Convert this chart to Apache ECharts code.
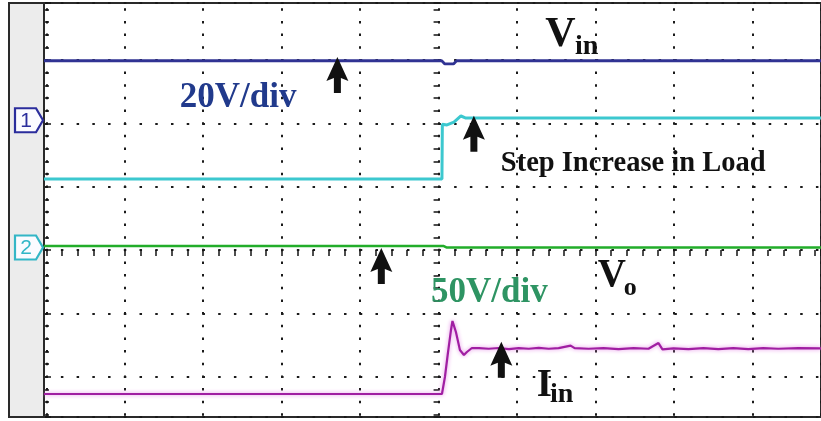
<!DOCTYPE html>
<html>
<head>
<meta charset="utf-8">
<style>
  html, body { margin: 0; padding: 0; background: #fff; }
  #scope { width: 821px; height: 421px; }
</style>
<script src="https://cdn.jsdelivr.net/npm/echarts@6/dist/echarts.min.js"></script>
</head>
<body>
<div id="scope"></div>
<script>
// everything is in screen divisions, (0, 0) is the centre of the scope screen
const screenT = [-5.03, 4.875];
const screenV = [-2.638, 3.902];

// channel 1 / input voltage (navy)
const vinT = [-5.03, 0.04, 0.08, 0.19, 0.23, 4.875];
const vinV = [2.99, 2.99, 2.94, 2.94, 2.99, 2.99];

// load step trace (cyan)
const stepT = [-5.03, 0.043, 0.048, 0.107, 0.196, 0.285, 0.348, 4.875];
const stepV = [1.12, 1.12, 1.985, 1.975, 2.02, 2.117, 2.085, 2.085];

// output voltage (green)
const voT = [-5.03, 0.06, 0.1, 4.875];
const voV = [0.065, 0.065, 0.04, 0.04];

// input current (magenta)
const iinT = [-5.03, 0.043, 0.081, 0.119, 0.158, 0.177, 0.221, 0.272, 0.323, 0.361, 0.425,
  0.515, 0.64, 0.768, 0.895, 1.022, 1.15, 1.277, 1.404, 1.53, 1.683, 1.734, 1.912, 2.103,
  2.294, 2.485, 2.676, 2.803, 2.854, 2.994, 3.185, 3.376, 3.566, 3.757, 3.948, 4.139, 4.33,
  4.585, 4.875];
const iinV = [-2.275, -2.275, -2.006, -1.627, -1.264, -1.122, -1.295, -1.58, -1.659, -1.611, -1.548,
  -1.55, -1.56, -1.548, -1.565, -1.55, -1.56, -1.545, -1.56, -1.55, -1.51, -1.55, -1.56, -1.55,
  -1.565, -1.55, -1.56, -1.47, -1.57, -1.555, -1.565, -1.55, -1.565, -1.55, -1.565, -1.55, -1.56,
  -1.55, -1.555];

// arrow tips
const arrowT = [-1.29, 0.45, -0.73, 0.8];
const arrowV = [3.05, 2.12, 0.03, -1.45];

// channel markers on the left panel
const markerText = ['1', '2'];
const markerLevel = [2.05, 0.04];

// annotation text, anchored at the left end of the baseline
const labelText = ['V', 'in', '20V/div', 'Step Increase in Load', '50V/div', 'V', 'o', 'I', 'in'];
const labelT = [1.36, 1.74, -3.3, 0.793, -0.097, 2.03, 2.36, 1.25, 1.42];
const labelV = [3.2, 3.075, 2.243, 1.232, -0.837, -0.6, -0.73, -2.338, -2.42];

const zip = (t, v) => t.map((x, i) => [x, v[i]]);

const chart = echarts.init(document.getElementById('scope'));

const tickStyle = { color: '#151515', width: 1.5 };

function trace(name, data, color, width, extra) {
  return Object.assign({
    name,
    type: 'line',
    data,
    showSymbol: false,
    symbol: 'none',
    lineStyle: { color, width },
    z: 3
  }, extra || {});
}

chart.setOption({
  animation: false,
  backgroundColor: '#fff',
  grid: {
    left: 44, right: -2, top: 3, bottom: 4,
    show: true,
    borderColor: '#2a2a2a',
    borderWidth: 2
  },
  xAxis: [{
    type: 'value',
    min: screenT[0],
    max: screenT[1],
    splitNumber: 10,
    minInterval: 1,
    maxInterval: 1,
    axisLine: { show: false, onZero: true },
    axisLabel: { show: false },
    axisTick: { show: true, length: 6, lineStyle: tickStyle },
    minorTick: { show: true, splitNumber: 5, length: 6, lineStyle: tickStyle },
    splitLine: {
      show: true,
      lineStyle: { color: '#1a1a1a', width: 2, type: [2.5, 10.16], dashOffset: 7.41 }
    }
  }],
  yAxis: [
    {
      type: 'value',
      position: 'left',
      min: screenV[0],
      max: screenV[1],
      splitNumber: 6,
      minInterval: 1,
      maxInterval: 1,
      axisLine: { show: false, onZero: true, onZeroAxisIndex: 0 },
      axisLabel: { show: false },
      axisTick: { show: true, length: 5, lineStyle: tickStyle },
      minorTick: { show: true, splitNumber: 5, length: 5, lineStyle: tickStyle },
      splitLine: {
        show: true,
        lineStyle: { color: '#1a1a1a', width: 2, type: [2.5, 13.23], dashOffset: 14.58 }
      }
    },
    {
      type: 'value',
      position: 'left',
      min: screenV[0],
      max: screenV[1],
      splitNumber: 6,
      minInterval: 1,
      maxInterval: 1,
      axisLine: { show: false, onZero: false },
      axisLabel: { show: false },
      axisTick: { show: true, inside: true, length: 7, lineStyle: tickStyle },
      minorTick: { show: true, splitNumber: 5, length: 5, lineStyle: tickStyle },
      splitLine: { show: false }
    }
  ],
  series: [
    trace('Vin', zip(vinT, vinV), '#303393', 2.8, {
      markPoint: {
        symbol: 'path://M11,0L22,24L14.5,21L14.5,36L7.5,36L7.5,21L0,24Z',
        symbolSize: [22, 36],
        symbolOffset: [0, 18],
        itemStyle: { color: '#111' },
        label: { show: false },
        data: zip(arrowT, arrowV).map(c => ({ coord: c }))
      }
    }),
    trace('Step', zip(stepT, stepV), '#3cc8cf', 3),
    trace('Vo', zip(voT, voV), '#22ad2a', 2.5),
    trace('Iin', zip(iinT, iinV), '#a01ea2', 2.2, {
      lineStyle: { color: '#a01ea2', width: 2.2, shadowColor: '#e48ae6', shadowBlur: 4 }
    })
  ]
});

// left panel, channel markers and annotation text, placed through the grid scales
const toPx = (t, v) => chart.convertToPixel({ xAxisIndex: 0, yAxisIndex: 0 }, [t, v]);
const markerColor = ['#2b2d9c', '#33b6c6'];
const labelStyle = [
  { size: 42, color: '#111' },
  { size: 28, color: '#111' },
  { size: 35, color: '#213a8c' },
  { size: 28.5, color: '#111' },
  { size: 35, color: '#2e9463' },
  { size: 39, color: '#111' },
  { size: 26, color: '#111' },
  { size: 39, color: '#111' },
  { size: 28, color: '#111' }
];

const graphics = [{
  type: 'rect',
  shape: { x: 9, y: 3, width: 35, height: 414 },
  style: { fill: '#ececec', stroke: '#2a2a2a', lineWidth: 2 },
  z: 1
}];

markerText.forEach((txt, i) => {
  const cy = toPx(0, markerLevel[i])[1];
  graphics.push({
    type: 'polygon',
    shape: { points: [[15, cy - 12], [36, cy - 12], [43, cy], [36, cy + 12], [15, cy + 12]] },
    style: { fill: '#fbfbff', stroke: markerColor[i], lineWidth: 2.2 },
    z: 5
  });
  graphics.push({
    type: 'text',
    x: 26, y: cy + 1,
    style: {
      text: txt,
      font: '21px "Liberation Sans"',
      fill: markerColor[i],
      align: 'center',
      verticalAlign: 'middle'
    },
    z: 6
  });
});

labelText.forEach((txt, i) => {
  const p = toPx(labelT[i], labelV[i]);
  const s = labelStyle[i];
  graphics.push({
    type: 'text',
    x: p[0],
    y: p[1] + 0.2 * s.size,
    style: {
      text: txt,
      font: 'bold ' + s.size + 'px "Liberation Serif"',
      fill: s.color,
      align: 'left',
      verticalAlign: 'bottom'
    },
    z: 10
  });
});

chart.setOption({ graphic: graphics });
</script>
</body>
</html>
